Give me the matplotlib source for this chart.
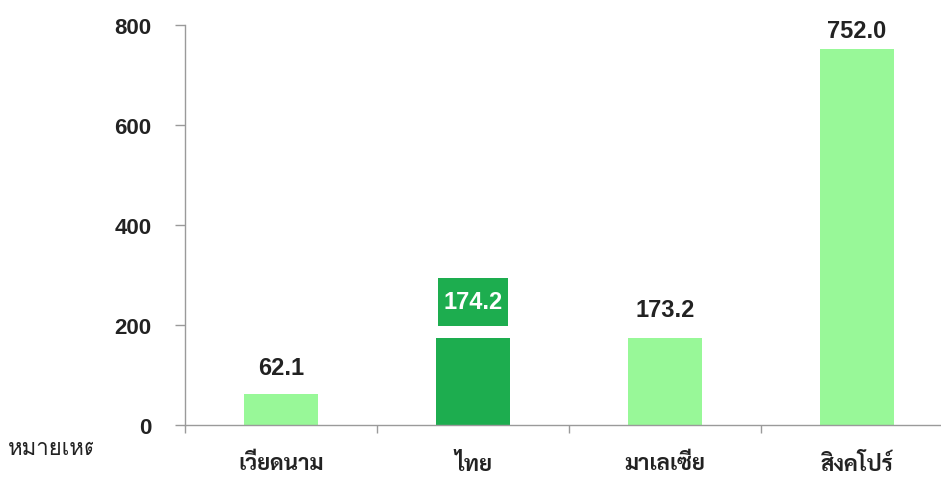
import matplotlib
matplotlib.use("Agg")
import matplotlib.pyplot as plt
from matplotlib import font_manager as fm
from matplotlib.path import Path
from matplotlib.transforms import Bbox, TransformedBbox

# Data
countries = ["เวียดนาม", "ไทย", "มาเลเซีย", "สิงคโปร์"]
values = [62.1, 174.2, 173.2, 752.0]
highlight = "ไทย"
y_ticks = [0, 200, 400, 600, 800]
note_text = "หมายเหตุ"

installed = {f.name for f in fm.fontManager.ttflist}


def pick(prefs, default="DejaVu Sans"):
    for p in prefs:
        if p in installed:
            return p
    return default


thai_bold = pick(["Sarabun", "IBM Plex Sans Thai Looped", "Loma", "Noto Sans Thai"])
thai_reg = pick(["Loma", "Sarabun", "Noto Sans Thai"])
latin = pick(["Liberation Sans", "Arial", "DejaVu Sans"])

light_green = "#98F898"
dark_green = "#1DAD4F"
axis_grey = "#9A9A9A"
text_dark = "#222222"


def label_box(x0, y0, width, height, mutation_size):
    """Square box with separate horizontal and vertical padding."""
    px, py = 0.22 * mutation_size, 0.52 * mutation_size
    l, b = x0 - px, y0 - py
    r, t = x0 + width + px, y0 + height + py
    return Path([(l, b), (r, b), (r, t), (l, t), (l, b)], closed=True)


W, H = 941, 481
fig = plt.figure(figsize=(W / 100, H / 100), dpi=100)

x0, x1 = 185, 953
y0, y1 = 426, 26
ax = fig.add_axes([x0 / W, 1 - y0 / H, (x1 - x0) / W, (y0 - y1) / H])

xs = list(range(len(countries)))
colors = [dark_green if c == highlight else light_green for c in countries]
bars = ax.bar(xs, values, width=0.39, color=colors, zorder=2)

ax.set_xlim(-0.5, len(countries) - 0.5)
ax.set_ylim(0, 800)

for s in ["top", "right"]:
    ax.spines[s].set_visible(False)
for s in ["left", "bottom"]:
    ax.spines[s].set_color(axis_grey)
    ax.spines[s].set_linewidth(1.0)

ax.set_yticks(y_ticks)
ax.set_yticklabels([str(v) for v in y_ticks], fontfamily=latin,
                   fontweight="bold", fontsize=16, color=text_dark)
ax.tick_params(axis="y", length=7, width=1, color=axis_grey, pad=17)

# x ticks sit on category boundaries, labels at category centres
ax.set_xticks([i - 0.5 for i in range(len(countries) + 1)])
ax.set_xticklabels([])
ax.tick_params(axis="x", which="major", length=6, width=1, color=axis_grey)
ax.set_xticks(xs, minor=True)
ax.set_xticklabels(countries, minor=True, fontfamily=thai_bold,
                   fontweight="bold", fontsize=16, color=text_dark)
ax.tick_params(axis="x", which="minor", length=0, pad=20)

# value labels (offsets in points above each bar)
offsets = [19, 26, 21, 13.5]
for i, (b, v, c) in enumerate(zip(bars, values, countries)):
    cx = b.get_x() + b.get_width() / 2
    if c == highlight:
        ax.annotate(f"{v:.1f}", (cx, v), xytext=(0, offsets[i]), textcoords="offset points",
                    ha="center", va="center", fontfamily=latin, fontweight="bold",
                    fontsize=17, color="white",
                    bbox=dict(boxstyle=label_box, fc=dark_green, ec="none"))
    else:
        ax.annotate(f"{v:.1f}", (cx, v), xytext=(0, offsets[i]), textcoords="offset points",
                    ha="center", va="center", fontfamily=latin, fontweight="bold",
                    fontsize=17, color=text_dark)

# note at the lower left, clipped short of the tick labels
note = fig.text(8 / W, 1 - 451 / H, note_text, ha="left", va="center",
                fontfamily=thai_reg, fontsize=16, color=text_dark)
note.set_clip_box(TransformedBbox(Bbox([[0, 0], [93 / W, 1]]), fig.transFigure))
note.set_clip_on(True)

fig.savefig("out.png", dpi=100)
